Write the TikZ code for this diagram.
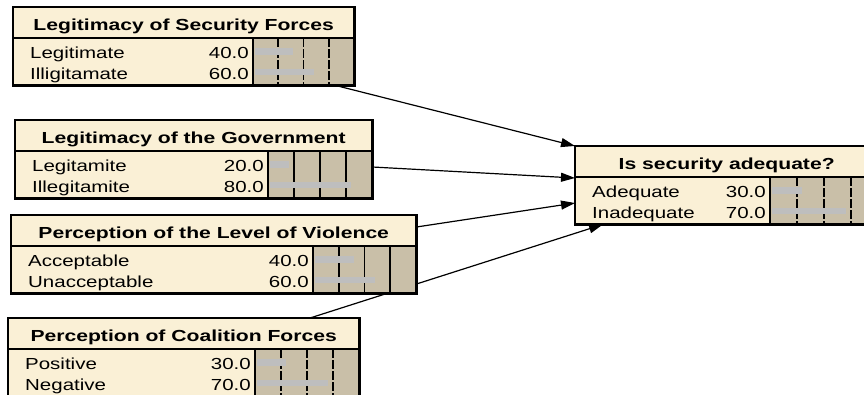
\documentclass[tikz,border=0pt]{standalone}
\usepackage{fontspec}
\newfontfamily\bnfont{Liberation Sans}[FakeStretch=1.28]
\newfontfamily\bntfont{Liberation Sans}[FakeStretch=1.32]
\usetikzlibrary{calc,arrows.meta}
\pgfdeclarelayer{paper}
\pgfdeclarelayer{links}
\pgfsetlayers{paper,links,main}
\definecolor{bnbeige}{RGB}{250,240,214}
\definecolor{bntan}{RGB}{201,191,168}
\definecolor{bnbar}{RGB}{190,190,190}
\tikzset{
 boxfill/.style={fill=bnbeige, inner sep=0pt, minimum height=78pt, anchor=north west},
 boxline/.style={line width=2.4pt},
 divline/.style={line width=1.8pt},
 dashdiv/.style={dash pattern=on 9pt off 2pt},
 soliddiv/.style={},
 link/.style={line width=1.2pt, -{Triangle[length=14pt,width=9pt]}},
 titletext/.style={font=\bntfont\bfseries\fontsize{16}{16}\selectfont, anchor=base, inner sep=0pt},
 statetext/.style={font=\bnfont\fontsize{16}{16}\selectfont, anchor=base west, inner sep=0pt},
 valuetext/.style={font=\bnfont\fontsize{16}{16}\selectfont, anchor=base east, inner sep=0pt},
}
% #1 name, #2 x, #3 top, #4 right, #5 bar-area left, #6 title, #7 states, #8 divider style
\newcommand\bnbox[8]{%
 \pgfmathsetmacro\bnW{#4-#2}%
 \pgfmathsetmacro\bnBW{#4-#5}%
 \pgfmathsetmacro\bnBX{#5-#2}%
 \node[boxfill, minimum width=\bnW pt] (#1) at (#2,#3) {};
 \coordinate (#1bar) at ($(#1.north west)+(\bnBX,31)$);
 \fill[bntan] (#1bar) rectangle (#1.south east);
 \foreach \k in {1,2,3}{%
   \draw[divline,#8] ($(#1bar)+({\k*\bnBW/4},0)$) -- ($(#1bar |- #1.south)+({\k*\bnBW/4},0)$);}
 \node[titletext] (#1title) at ($(#1.north)+(0,23)$) {#6};
 \foreach \bns/\bnv [count=\bni] in {#7}{%
   \fill[bnbar] ($(#1bar)+(1.5,{10+(\bni-1)*20.5})$) rectangle ++({\bnv*\bnBW/100-1.5},6.5);
   \node[statetext] (#1s\bni) at ($(#1.north west)+(17,{51+(\bni-1)*21})$) {\bns};
   \node[valuetext] (#1v\bni) at ($(#1bar)+(-4,{20+(\bni-1)*21})$) {\bnv};
 }
 \draw[boxline] ($(#1.north west)+(0,31)$) -- ($(#1.north east)+(0,31)$);
 \draw[boxline] (#1bar) -- (#1bar |- #1.south);
 \draw[boxline] (#1.north west) rectangle (#1.south east);
}
\begin{document}
\begin{tikzpicture}[x=1pt,y=-1pt]
\useasboundingbox (0,0) rectangle (864,394);
\begin{pgfonlayer}{paper}
\fill[white] (0,0) rectangle (864,394);
\end{pgfonlayer}

\bnbox{sec}{13}{7}{354}{253}{Legitimacy of Security Forces}{Legitimate/40.0,Illigitamate/60.0}{dashdiv}
\bnbox{gov}{15}{120}{372}{268}{Legitimacy of the Government}{Legitamite/20.0,Illegitamite/80.0}{soliddiv}
\bnbox{viol}{11}{215}{416}{313}{Perception of the Level of Violence}{Acceptable/40.0,Unacceptable/60.0}{soliddiv}
\bnbox{coal}{8}{318}{359}{255}{Perception of Coalition Forces}{Positive/30.0,Negative/70.0}{dashdiv}
\bnbox{adeq}{575}{146}{878}{770}{Is security adequate?}{Adequate/30.0,Inadequate/70.0}{dashdiv}

\begin{pgfonlayer}{links}
\draw[link] ($(sec.south east)+(-19,0)$) -- (adeq.north west);
\draw[link] ($(gov.north east)+(0,47)$) -- ($(adeq.north west)+(0,32)$);
\draw[link] ($(viol.north east)+(0,12)$) -- ($(adeq.north west)+(0,57)$);
\draw[link] ($(coal.north west)+(302,0)$) -- ($(adeq.south west)+(28,0)$);
\end{pgfonlayer}
\end{tikzpicture}
\end{document}
